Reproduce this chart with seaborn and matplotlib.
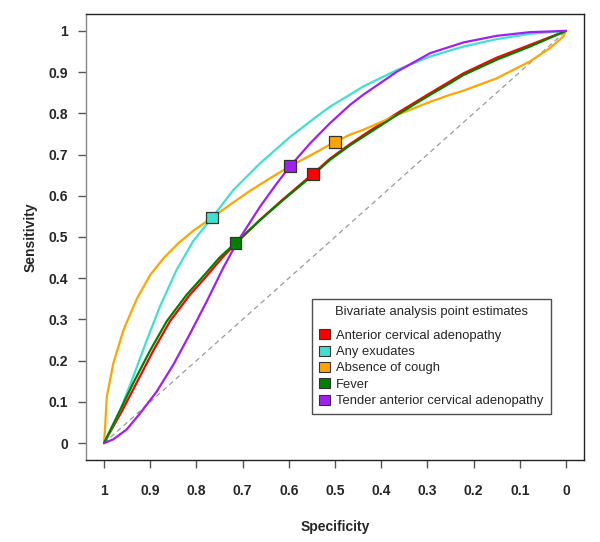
import matplotlib
matplotlib.use("Agg")
import matplotlib.pyplot as plt
from matplotlib.patches import Patch
import pandas as pd
import seaborn as sns

# ---------------------------------------------------------------------------
# Data
# ---------------------------------------------------------------------------
TESTS = [
    "Anterior cervical adenopathy",
    "Any exudates",
    "Absence of cough",
    "Fever",
    "Tender anterior cervical adenopathy",
]

# SROC curves: specificity / sensitivity pairs
anterior_spec = [1.0, 0.960, 0.930, 0.893, 0.857, 0.814, 0.782, 0.744, 0.715, 0.662,
                 0.612, 0.548, 0.511, 0.468, 0.439, 0.366, 0.294, 0.222, 0.150, 0.078, 0.0]
anterior_sens = [0.0, 0.080, 0.145, 0.225, 0.296, 0.360, 0.400, 0.450, 0.484, 0.542,
                 0.592, 0.653, 0.690, 0.725, 0.747, 0.800, 0.849, 0.897, 0.935, 0.966, 1.0]

exudates_spec = [1.0, 0.965, 0.937, 0.908, 0.879, 0.843, 0.807, 0.766, 0.720, 0.662,
                 0.597, 0.540, 0.511, 0.468, 0.439, 0.366, 0.294, 0.222, 0.150, 0.078, 0.0]
exudates_sens = [0.0, 0.080, 0.160, 0.248, 0.331, 0.420, 0.490, 0.547, 0.614, 0.679,
                 0.743, 0.792, 0.816, 0.845, 0.865, 0.905, 0.938, 0.962, 0.980, 0.993, 1.0]

cough_spec = [1.0, 0.998, 0.994, 0.980, 0.958, 0.929, 0.900, 0.870, 0.840, 0.807,
              0.766, 0.720, 0.684, 0.640, 0.597, 0.540, 0.500, 0.468, 0.439, 0.400,
              0.366, 0.294, 0.251, 0.222, 0.150, 0.078, 0.035, 0.006, 0.0]
cough_sens = [0.0, 0.032, 0.112, 0.193, 0.274, 0.350, 0.408, 0.450, 0.484, 0.515,
              0.547, 0.584, 0.612, 0.643, 0.672, 0.706, 0.731, 0.748, 0.760, 0.779,
              0.796, 0.828, 0.845, 0.855, 0.885, 0.926, 0.958, 0.986, 1.0]

fever_spec = [1.0, 0.965, 0.937, 0.900, 0.864, 0.821, 0.789, 0.750, 0.715, 0.662,
              0.612, 0.548, 0.511, 0.468, 0.439, 0.366, 0.294, 0.251, 0.222, 0.150,
              0.078, 0.0]
fever_sens = [0.0, 0.080, 0.145, 0.225, 0.296, 0.360, 0.400, 0.450, 0.486, 0.541,
              0.590, 0.650, 0.687, 0.722, 0.743, 0.796, 0.845, 0.873, 0.893, 0.930,
              0.962, 1.0]

tender_spec = [1.0, 0.980, 0.951, 0.922, 0.886, 0.850, 0.814, 0.778, 0.742, 0.713,
               0.662, 0.626, 0.597, 0.554, 0.511, 0.468, 0.439, 0.366, 0.294, 0.222,
               0.150, 0.078, 0.0]
tender_sens = [0.0, 0.009, 0.033, 0.072, 0.125, 0.190, 0.265, 0.343, 0.425, 0.485,
               0.574, 0.630, 0.672, 0.727, 0.776, 0.820, 0.845, 0.901, 0.946, 0.972,
               0.988, 0.997, 1.0]

# Bivariate point estimates (same order as TESTS)
point_spec = [0.548, 0.766, 0.500, 0.715, 0.597]
point_sens = [0.653, 0.547, 0.731, 0.486, 0.672]

x_ticks = [1.0, 0.9, 0.8, 0.7, 0.6, 0.5, 0.4, 0.3, 0.2, 0.1, 0.0]
y_ticks = [0.0, 0.1, 0.2, 0.3, 0.4, 0.5, 0.6, 0.7, 0.8, 0.9, 1.0]
tick_labels = ["1", "0.9", "0.8", "0.7", "0.6", "0.5", "0.4", "0.3", "0.2", "0.1", "0"]

COLORS = ["#FF0000", "#40E0D0", "#FFA500", "#008000", "#A020F0"]

# ---------------------------------------------------------------------------
# Build long-form frames
# ---------------------------------------------------------------------------
curves = [
    (anterior_spec, anterior_sens),
    (exudates_spec, exudates_sens),
    (cough_spec, cough_sens),
    (fever_spec, fever_sens),
    (tender_spec, tender_sens),
]
frames = []
for name, (sp, se) in zip(TESTS, curves):
    frames.append(pd.DataFrame({"spec": sp, "sens": se, "test": name}))
df_curves = pd.concat(frames, ignore_index=True)
df_points = pd.DataFrame({"spec": point_spec, "sens": point_sens, "test": TESTS})
palette = dict(zip(TESTS, COLORS))

# ---------------------------------------------------------------------------
# Style
# ---------------------------------------------------------------------------
sns.set_theme(style="white")
plt.rcParams["font.family"] = ["Liberation Sans", "DejaVu Sans"]

fig = plt.figure(figsize=(6.0, 5.42), dpi=100)
ax = fig.add_axes([86 / 600, 1 - 460 / 542, 498 / 600, 446 / 542])

# chance line
ax.plot([1, 0], [0, 1], color="#9A9A9A", linestyle=(0, (4, 3)), linewidth=0.9, zorder=1)

for name in TESTS:
    sns.lineplot(data=df_curves[df_curves["test"] == name], x="spec", y="sens",
                 sort=False, estimator=None, color=palette[name], linewidth=1.6,
                 ax=ax, legend=False, zorder=2)

sns.scatterplot(data=df_points, x="spec", y="sens", hue="test", palette=palette,
                marker="s", s=70, edgecolor="#333333", linewidth=0.9,
                ax=ax, legend=False, zorder=4)

ax.set_xlim(1.039, -0.039)
ax.set_ylim(-0.041, 1.041)
ax.set_xticks(x_ticks)
ax.set_xticklabels(tick_labels)
ax.set_yticks(y_ticks)
ax.set_yticklabels(tick_labels[::-1])

ax.tick_params(axis="both", which="major", direction="out", length=6, width=1,
               color="#555555", labelsize=10, bottom=True, left=True)
ax.tick_params(axis="x", pad=11)
ax.tick_params(axis="y", pad=7)
for lab in ax.get_xticklabels() + ax.get_yticklabels():
    lab.set_fontweight("bold")

for side in ["top", "right", "bottom"]:
    ax.spines[side].set_color("#222222")
    ax.spines[side].set_linewidth(1.0)
ax.spines["left"].set_color("#888888")
ax.spines["left"].set_linewidth(1.0)

ax.set_xlabel("Specificity", fontsize=10, fontweight="bold", labelpad=16)
ax.set_ylabel("Sensitivity", fontsize=10, fontweight="bold", labelpad=8)

handles = [Patch(facecolor=c, edgecolor="#333333", linewidth=0.8) for c in COLORS]
leg = ax.legend(handles, TESTS, title="Bivariate analysis point estimates",
                loc="upper left", bbox_to_anchor=((312 - 86) / 498, (460 - 299) / 446),
                borderaxespad=0, fontsize=9.4, title_fontsize=9.4, frameon=True,
                fancybox=False, edgecolor="#222222", handlelength=0.8,
                handleheight=0.8, handletextpad=0.5, labelspacing=0.29,
                borderpad=0.55)
leg.get_frame().set_linewidth(1.0)
leg._legend_box.sep = 8  # a little more room under the title

fig.savefig("out.png", dpi=100)
